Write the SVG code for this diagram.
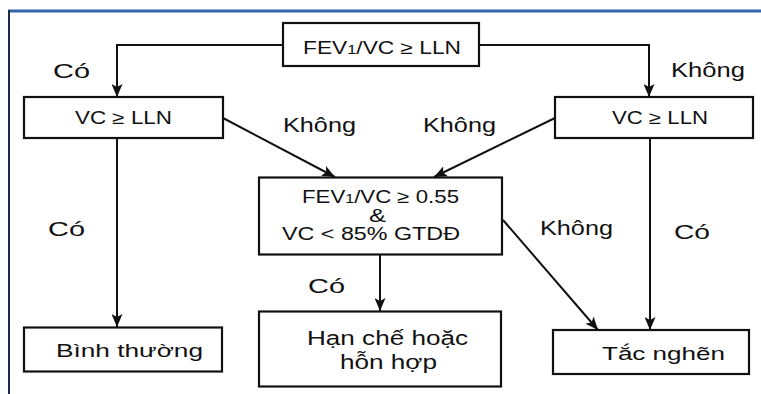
<svg xmlns="http://www.w3.org/2000/svg" width="761" height="394" viewBox="0 0 761 394">
<style>
.box{fill:#fff;stroke:#111;stroke-width:2.2}
.t{font-family:"Liberation Sans",Arial,sans-serif;font-size:18px;fill:#111}
.big{font-size:20px}
.lbl{font-family:"Liberation Sans",Arial,sans-serif;font-size:21px;fill:#111}
.c{fill:none;stroke:#111;stroke-width:2}
.sub{font-size:13px}
</style>
<defs>
<marker id="ah" markerUnits="userSpaceOnUse" markerWidth="13" markerHeight="11" refX="13" refY="5.5" orient="auto">
<path d="M0,0 L13,5.5 L0,11 L3,5.5 z" fill="#111"/>
</marker>
</defs>
<rect width="761" height="394" fill="#fff"/>
<line x1="8" y1="11" x2="761" y2="11" stroke="#3566a6" stroke-width="3"/>
<line x1="9" y1="10" x2="9" y2="394" stroke="#1b2b4d" stroke-width="2"/>
<g id="connectors">
<polyline class="c" points="283,45 117,45 117,97" marker-end="url(#ah)"/>
<polyline class="c" points="479,45 649,45 649,97" marker-end="url(#ah)"/>
<line class="c" x1="223" y1="118" x2="335" y2="177" marker-end="url(#ah)"/>
<line class="c" x1="555" y1="118" x2="434" y2="177" marker-end="url(#ah)"/>
<line class="c" x1="117" y1="138" x2="117" y2="327" marker-end="url(#ah)"/>
<line class="c" x1="380" y1="254" x2="380" y2="311" marker-end="url(#ah)"/>
<line class="c" x1="503" y1="220" x2="598" y2="330" marker-end="url(#ah)"/>
<line class="c" x1="650" y1="138" x2="650" y2="330" marker-end="url(#ah)"/>
</g>
<g id="n_top">
<rect class="box" x="283" y="23" width="196" height="43"/>
<text class="t" x="303" y="53.5" textLength="158" lengthAdjust="spacingAndGlyphs">FEV<tspan class="sub">1</tspan>/VC ≥ LLN</text>
</g>
<g id="n_left">
<rect class="box" x="24" y="97" width="199" height="41"/>
<text class="t" x="75" y="123.5" textLength="97" lengthAdjust="spacingAndGlyphs">VC ≥ LLN</text>
</g>
<g id="n_right">
<rect class="box" x="555" y="97" width="198" height="41"/>
<text class="t" x="612" y="123.5" textLength="96" lengthAdjust="spacingAndGlyphs">VC ≥ LLN</text>
</g>
<g id="n_mid">
<rect class="box" x="259" y="177.5" width="243" height="77"/>
<text class="t" x="302" y="202.5" textLength="157" lengthAdjust="spacingAndGlyphs">FEV<tspan class="sub">1</tspan>/VC ≥ 0.55</text>
<text class="t" x="369" y="221.5" textLength="17" lengthAdjust="spacingAndGlyphs">&amp;</text>
<text class="t" x="282" y="240" textLength="178" lengthAdjust="spacingAndGlyphs">VC &lt; 85% GTDĐ</text>
</g>
<g id="n_normal">
<rect class="box" x="24" y="327.5" width="198" height="44"/>
<text class="t" x="56" y="357" textLength="147" lengthAdjust="spacingAndGlyphs">Bình thường</text>
</g>
<g id="n_restrict">
<rect class="box" x="259" y="311.5" width="242" height="75"/>
<text class="t big" x="307" y="344.5" textLength="161" lengthAdjust="spacingAndGlyphs">Hạn chế hoặc</text>
<text class="t big" x="340" y="368.5" textLength="97" lengthAdjust="spacingAndGlyphs">hỗn hợp</text>
</g>
<g id="n_obstruct">
<rect class="box" x="553" y="330" width="196" height="44"/>
<text class="t" x="602" y="359.5" textLength="123" lengthAdjust="spacingAndGlyphs">Tắc nghẽn</text>
</g>
<g id="labels">
<text class="lbl" x="53" y="78" textLength="37" lengthAdjust="spacingAndGlyphs">Có</text>
<text class="lbl" x="671" y="77" textLength="74" lengthAdjust="spacingAndGlyphs">Không</text>
<text class="lbl" x="283" y="132" textLength="73" lengthAdjust="spacingAndGlyphs">Không</text>
<text class="lbl" x="423" y="132" textLength="73" lengthAdjust="spacingAndGlyphs">Không</text>
<text class="lbl" x="48" y="235.5" textLength="37" lengthAdjust="spacingAndGlyphs">Có</text>
<text class="lbl" x="308" y="293" textLength="37" lengthAdjust="spacingAndGlyphs">Có</text>
<text class="lbl" x="540" y="235" textLength="73" lengthAdjust="spacingAndGlyphs">Không</text>
<text class="lbl" x="674" y="239" textLength="36" lengthAdjust="spacingAndGlyphs">Có</text>
</g>
</svg>
